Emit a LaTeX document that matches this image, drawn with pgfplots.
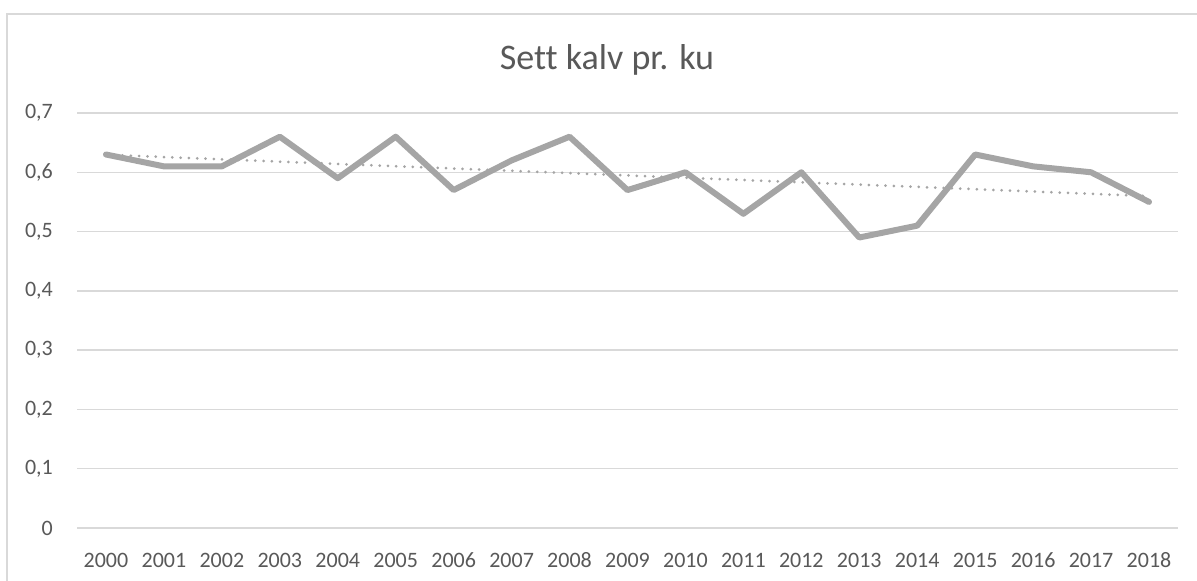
\documentclass[border=0pt]{standalone}
\usepackage{pgfplots}
\pgfplotsset{compat=1.18}
\usepackage{fontspec}
\setmainfont[Ligatures=NoCommon]{Carlito}
\definecolor{txtc}{HTML}{595959}
\definecolor{gridc}{HTML}{D9D9D9}
\definecolor{serc}{HTML}{A5A5A5}
\begin{document}
\begin{tikzpicture}
\useasboundingbox (0,0) rectangle (1197bp,581bp);
\fill[white] (0,0) rectangle (1197bp,581bp);
\draw[gridc, line width=1.3bp] (7bp,-10bp) -- (7bp,567bp) -- (1210bp,567bp);
\node[anchor=base, text=txtc, font=\fontsize{36bp}{42bp}\selectfont, inner sep=0pt] at (607bp,511bp) {Sett kalv pr. ku};
\begin{axis}[
  at={(77bp,53bp)}, anchor=south west,
  scale only axis, width=1101bp, height=415bp,
  xmin=-0.5, xmax=18.5, ymin=0, ymax=0.7,
  xtick={0,...,18},
  xticklabels={2000,2001,2002,2003,2004,2005,2006,2007,2008,2009,2010,2011,2012,2013,2014,2015,2016,2017,2018},
  ytick={0,0.1,0.2,0.3,0.4,0.5,0.6,0.7},
  /pgf/number format/.cd, use comma, fixed, precision=1, assume math mode=true,
  /pgfplots/.cd,
  axis line style={draw=none},
  major tick length=0pt,
  xmajorgrids=false, ymajorgrids=true,
  grid style={draw=gridc, line width=1.3bp},
  ticklabel style={text=txtc, font=\fontsize{22bp}{26bp}\selectfont, inner sep=0pt},
  yticklabel style={anchor=east, xshift=-24bp},
  xticklabel style={anchor=base, yshift=-39bp},
  clip=false,
]
\addplot[serc, line width=6bp, line join=round, line cap=round] coordinates {
(0,0.63) (1,0.61) (2,0.61) (3,0.66) (4,0.59) (5,0.66) (6,0.57) (7,0.62) (8,0.66) (9,0.57)
(10,0.60) (11,0.53) (12,0.60) (13,0.49) (14,0.51) (15,0.63) (16,0.61) (17,0.60) (18,0.55)};
\addplot[serc, line width=3bp, line cap=round, dash pattern=on 0pt off 8.3bp] coordinates {
(0,0.6296) (18,0.5598)};
\end{axis}
\end{tikzpicture}
\end{document}
